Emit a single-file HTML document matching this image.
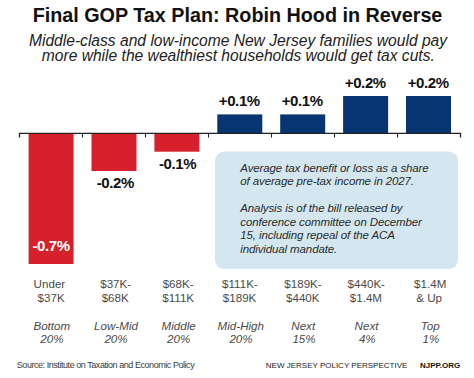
<!DOCTYPE html>
<html><head><meta charset="utf-8">
<style>
html,body{margin:0;padding:0;background:#fff;}
body{width:474px;height:378px;overflow:hidden;position:relative;}
svg{position:absolute;left:0;top:0;}
text{font-family:"Liberation Sans",sans-serif;}
.t{font-weight:bold;font-size:19.75px;fill:#111;}
.s{font-style:italic;font-size:15.62px;fill:#222;}
.v{font-weight:bold;font-size:15px;fill:#111;letter-spacing:-0.4px;}
.b{font-style:italic;font-size:11.5px;fill:#2a2a2a;letter-spacing:-0.12px;}
.l{font-size:11.6px;fill:#4a4a4a;}
.g{font-style:italic;font-size:11.6px;fill:#4a4a4a;}
.src{font-size:9px;fill:#3a3a3a;letter-spacing:-0.45px;}
.nj{font-size:8px;fill:#222;}
.njb{font-size:8px;font-weight:bold;fill:#111;}
</style></head><body>
<svg width="474" height="378" viewBox="0 0 474 378">
<text class="t" x="237.5" y="21.7" text-anchor="middle">Final GOP Tax Plan: Robin Hood in Reverse</text>
<text class="s" x="238" y="46.3" text-anchor="middle">Middle-class and low-income New Jersey families would pay</text>
<text class="s" x="238.3" y="60.8" text-anchor="middle">more while the wealthiest households would get tax cuts.</text>

<rect x="215" y="151.5" width="243" height="117.5" rx="9" ry="9" fill="#d4e7f0"/>

<!-- bars -->
<rect x="28.6" y="133" width="45" height="131" fill="#d6202b"/>
<rect x="91.5" y="133" width="45" height="38" fill="#d6202b"/>
<rect x="154.4" y="133" width="45" height="18.7" fill="#d6202b"/>
<rect x="217.3" y="114.4" width="45" height="18.6" fill="#063571"/>
<rect x="280.2" y="114.4" width="45" height="18.6" fill="#063571"/>
<rect x="343.1" y="96" width="45" height="37" fill="#063571"/>
<rect x="406" y="96" width="45" height="37" fill="#063571"/>

<!-- axis -->
<path d="M19.5 137.5V133.3H460.5V137.5" fill="none" stroke="#222" stroke-width="1.3"/>
<path d="M82.5 133.3V137.5M145.5 133.3V137.5M208.5 133.3V137.5M271.5 133.3V137.5M334.5 133.3V137.5M397.5 133.3V137.5" fill="none" stroke="#222" stroke-width="1.1"/>

<!-- values -->
<text class="v" x="51" y="251.2" text-anchor="middle" fill="#fff" style="fill:#fff">-0.7%</text>
<text class="v" x="115.3" y="188" text-anchor="middle">-0.2%</text>
<text class="v" x="177.6" y="169" text-anchor="middle">-0.1%</text>
<text class="v" x="239.3" y="106.2" text-anchor="middle">+0.1%</text>
<text class="v" x="302.2" y="106.2" text-anchor="middle">+0.1%</text>
<text class="v" x="365.3" y="87.7" text-anchor="middle">+0.2%</text>
<text class="v" x="428.2" y="87.7" text-anchor="middle">+0.2%</text>

<!-- box text -->
<text class="b" x="240.3" y="171.6">Average tax benefit or loss as a share</text>
<text class="b" x="240.3" y="185">of average pre-tax income in 2027.</text>
<text class="b" x="240.3" y="212.4">Analysis is of the bill released by</text>
<text class="b" x="240.3" y="225.8">conference committee on December</text>
<text class="b" x="240.3" y="239.2">15, including repeal of the ACA</text>
<text class="b" x="240.3" y="252.6">individual mandate.</text>

<!-- x labels -->
<g text-anchor="middle">
<text class="l" x="49.4" y="288.3">Under</text>
<text class="l" x="51.1" y="302.2">$37K</text>
<text class="g" x="51.8" y="329.8">Bottom</text>
<text class="g" x="51.9" y="343.3">20%</text>
<text class="l" x="115.7" y="288.3">$37K-</text>
<text class="l" x="115.2" y="302.2">$68K</text>
<text class="g" x="116" y="329.8">Low-Mid</text>
<text class="g" x="116" y="343.3">20%</text>
<text class="l" x="178.1" y="288.3">$68K-</text>
<text class="l" x="178.2" y="302.2">$111K</text>
<text class="g" x="178.6" y="329.8">Middle</text>
<text class="g" x="178.6" y="343.3">20%</text>
<text class="l" x="239.9" y="288.3">$111K-</text>
<text class="l" x="239.6" y="302.2">$189K</text>
<text class="g" x="240.8" y="329.8">Mid-High</text>
<text class="g" x="241" y="343.3">20%</text>
<text class="l" x="303" y="288.3">$189K-</text>
<text class="l" x="302.8" y="302.2">$440K</text>
<text class="g" x="303.2" y="329.8">Next</text>
<text class="g" x="304" y="343.3">15%</text>
<text class="l" x="366.3" y="288.3">$440K-</text>
<text class="l" x="365.9" y="302.2">$1.4M</text>
<text class="g" x="366.5" y="329.8">Next</text>
<text class="g" x="367.3" y="343.3">4%</text>
<text class="l" x="430.2" y="288.3">$1.4M</text>
<text class="l" x="429.1" y="302.2">&amp; Up</text>
<text class="g" x="430.2" y="329.8">Top</text>
<text class="g" x="430.9" y="343.3">1%</text>
</g>

<text class="src" x="16.8" y="368.2">Source: Institute on Taxation and Economic Policy</text>
<text class="nj" x="265.8" y="368.2">NEW JERSEY POLICY PERSPECTIVE</text>
<text class="njb" x="420" y="368.2">NJPP.ORG</text>
</svg>
</body></html>
